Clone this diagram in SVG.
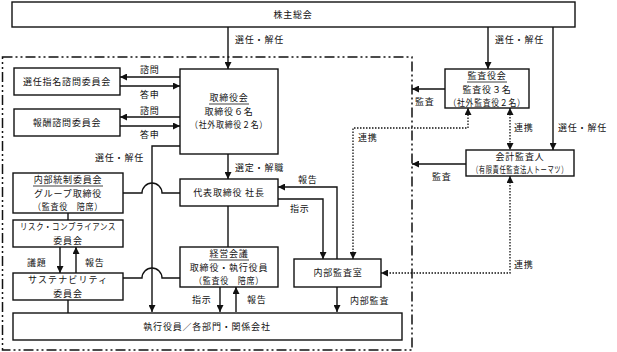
<svg xmlns="http://www.w3.org/2000/svg" width="617" height="352" viewBox="0 0 617 352">
<defs>
<style>
.box{fill:#fff;stroke:#111;stroke-width:1.4}
.t{font-family:"Noto Sans CJK JP","Noto Sans CJK SC",sans-serif;font-size:9px;letter-spacing:0.8px;fill:#111;text-anchor:middle}
.l{font-family:"Noto Sans CJK JP","Noto Sans CJK SC",sans-serif;font-size:9px;letter-spacing:0.8px;fill:#111}
.c{fill:none;stroke:#111;stroke-width:1.4}
.d{fill:none;stroke:#111;stroke-width:1.3;stroke-dasharray:1.5 1.5}
.u{stroke:#111;stroke-width:0.8}
</style>
<marker id="ar" viewBox="0 0 10 10" refX="10" refY="5" markerWidth="7" markerHeight="7" markerUnits="userSpaceOnUse" orient="auto-start-reverse">
<path d="M0,0 L10,5 L0,10 z" fill="#111"/>
</marker>
</defs>
<rect width="617" height="352" fill="#fff"/>

<rect x="2.5" y="57" width="409.5" height="293" fill="none" stroke="#111" stroke-width="1.5" stroke-dasharray="10 3 2 3 2 3"/>

<g id="connectors">
<path class="c" d="M228,27 V69" marker-end="url(#ar)"/>
<path class="c" d="M488,27 V69" marker-end="url(#ar)"/>
<path class="c" d="M553,27 V150" marker-end="url(#ar)"/>
<path class="c" d="M180,77 H120" marker-end="url(#ar)"/>
<path class="c" d="M120,86 H180" marker-end="url(#ar)"/>
<path class="c" d="M180,117 H120" marker-end="url(#ar)"/>
<path class="c" d="M120,126 H180" marker-end="url(#ar)"/>
<path class="c" d="M180,146 H152 V312" marker-end="url(#ar)"/>
<path class="c" d="M228,154 V179" marker-end="url(#ar)"/>
<path class="c" d="M228,206 V247"/>
<path class="c" d="M123,193 H142 A10,10 0 0 1 162,193 H180"/>
<path class="c" d="M123,278 H142 A10,10 0 0 1 162,278 H180"/>
<path class="c" d="M68,213 V220"/>
<path class="c" d="M60,247 V273" marker-end="url(#ar)"/>
<path class="c" d="M76,273 V247" marker-end="url(#ar)"/>
<path class="c" d="M68,300 V313"/>
<path class="c" d="M220,287 V312" marker-end="url(#ar)"/>
<path class="c" d="M236,312 V287" marker-end="url(#ar)"/>
<path class="c" d="M337,259 V187 H278" marker-end="url(#ar)"/>
<path class="c" d="M278,199 H323 V259" marker-end="url(#ar)"/>
<path class="c" d="M337,287 V312" marker-end="url(#ar)"/>
<path class="c" d="M445,89 H412" marker-end="url(#ar)"/>
<path class="c" d="M466,164 H412" marker-end="url(#ar)"/>
<path class="d" d="M353,259 V128 H468 V108" marker-start="url(#ar)" marker-end="url(#ar)"/>
<path class="d" d="M510,108 V150" marker-start="url(#ar)" marker-end="url(#ar)"/>
<path class="d" d="M510,176 V273 H381" marker-start="url(#ar)" marker-end="url(#ar)"/>
</g>

<g id="labels">
<text class="l" x="235" y="43">選任・解任</text>
<text class="l" x="495" y="43">選任・解任</text>
<text class="l" x="558" y="131">選任・解任</text>
<text class="l" x="140" y="73">諮問</text>
<text class="l" x="140" y="98">答申</text>
<text class="l" x="140" y="114">諮問</text>
<text class="l" x="140" y="138">答申</text>
<text class="l" x="95" y="161">選任・解任</text>
<text class="l" x="235" y="171">選定・解職</text>
<text class="l" x="298" y="183">報告</text>
<text class="l" x="290" y="212">指示</text>
<text class="l" x="358" y="141">連携</text>
<text class="l" x="415" y="105">監査</text>
<text class="l" x="514" y="131">連携</text>
<text class="l" x="432" y="180">監査</text>
<text class="l" x="514" y="268">連携</text>
<text class="l" x="350" y="304">内部監査</text>
<text class="l" x="27" y="266">議題</text>
<text class="l" x="85" y="266">報告</text>
<text class="l" x="192" y="303">指示</text>
<text class="l" x="247" y="303">報告</text>
</g>

<g id="n-kabunushi">
<rect class="box" x="12" y="2" width="563" height="25"/>
<text class="t" x="293" y="18">株主総会</text>
</g>

<g id="n-senin">
<rect class="box" x="14" y="68" width="106" height="27"/>
<text class="t" x="67" y="85">選任指名諮問委員会</text>
</g>

<g id="n-hoshu">
<rect class="box" x="14" y="109" width="106" height="27"/>
<text class="t" x="67" y="126">報酬諮問委員会</text>
</g>

<g id="n-torishimariyaku">
<rect class="box" x="180" y="69" width="98" height="85"/>
<text class="t" x="229" y="101.4">取締役会</text>
<line class="u" x1="209" y1="104" x2="249" y2="104"/>
<text class="t" x="229" y="114.5">取締役６名</text>
<text class="t" x="229" y="127.6" textLength="78" lengthAdjust="spacingAndGlyphs">（社外取締役２名）</text>
</g>

<g id="n-kansayaku">
<rect class="box" x="445" y="69" width="84" height="39"/>
<text class="t" x="487" y="79.4">監査役会</text>
<line class="u" x1="467" y1="82" x2="507" y2="82"/>
<text class="t" x="487" y="92.5">監査役３名</text>
<text class="t" x="487" y="105.6" textLength="77" lengthAdjust="spacingAndGlyphs">（社外監査役２名）</text>
</g>

<g id="n-kaikei">
<rect class="box" x="466" y="150" width="108" height="26"/>
<text class="t" x="520" y="159.9">会計監査人</text>
<text class="t" x="520" y="173" textLength="96" lengthAdjust="spacingAndGlyphs">（有限責任監査法人トーマツ）</text>
</g>

<g id="n-naibutousei">
<rect class="box" x="13" y="173" width="110" height="40"/>
<text class="t" x="68" y="183.4">内部統制委員会</text>
<line class="u" x1="33" y1="186" x2="103" y2="186"/>
<text class="t" x="68" y="196.5">グループ取締役</text>
<text class="t" x="68" y="209.6" textLength="70" lengthAdjust="spacingAndGlyphs">（監査役　陪席）</text>
</g>

<g id="n-risk">
<rect class="box" x="13" y="220" width="110" height="27"/>
<text class="t" x="68" y="230.4" textLength="96" lengthAdjust="spacingAndGlyphs">リスク・コンプライアンス</text>
<text class="t" x="68" y="243.5">委員会</text>
</g>

<g id="n-sustainability">
<rect class="box" x="13" y="273" width="110" height="27"/>
<text class="t" x="68" y="283.4" textLength="80" lengthAdjust="spacing">サステナビリティ</text>
<text class="t" x="68" y="296.5">委員会</text>
</g>

<g id="n-daihyo">
<rect class="box" x="180" y="179" width="98" height="27"/>
<text class="t" x="229" y="196">代表取締役 社長</text>
</g>

<g id="n-keiei">
<rect class="box" x="180" y="247" width="98" height="40"/>
<text class="t" x="229" y="257.4">経営会議</text>
<line class="u" x1="209" y1="260" x2="249" y2="260"/>
<text class="t" x="229" y="270.5">取締役・執行役員</text>
<text class="t" x="229" y="283.6" textLength="70" lengthAdjust="spacingAndGlyphs">（監査役　陪席）</text>
</g>

<g id="n-naibukansa">
<rect class="box" x="294" y="259" width="87" height="28"/>
<text class="t" x="338" y="276">内部監査室</text>
</g>

<g id="n-shikko">
<rect class="box" x="13" y="313" width="389" height="27"/>
<text class="t" x="207" y="329.5">執行役員／各部門・関係会社</text>
</g>
</svg>
